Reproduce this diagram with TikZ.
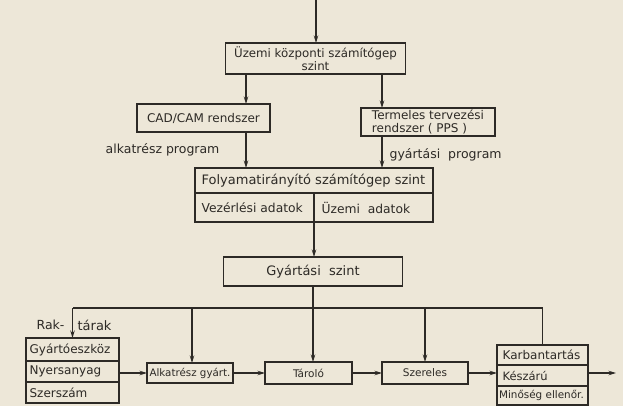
\documentclass[tikz,border=0pt]{standalone}
\usepackage{fontspec}
\setmainfont{DejaVu Sans}
\usetikzlibrary{arrows.meta}
\definecolor{bg}{RGB}{237,231,216}
\definecolor{ink}{RGB}{45,42,38}
\newcommand{\fsz}[2]{\fontsize{#1}{#2}\selectfont}
\begin{document}
\begin{tikzpicture}[x=1pt,y=-1pt,line width=1.2pt,
  every node/.style={text=ink},
  box/.style={draw=ink,inner sep=0pt,outer sep=0pt},
  txt/.style={inner sep=0pt,anchor=west},
  arr/.style={draw=ink,-{Stealth[length=7.5pt,width=4.5pt]}},
  ln/.style={draw=ink}]
\fill[bg] (0,0) rectangle (623,406);
\useasboundingbox (0,0) rectangle (623,406);
% helper coordinates
\coordinate (in) at (316,0);
\coordinate (xl) at (246,0);
\coordinate (xr) at (382,0);
\coordinate (bus) at (0,308);
\coordinate (out) at (616,373);
% top nodes
\node[box,minimum width=180pt,minimum height=31pt,align=center,font=\fsz{11.8}{12.8}] (b1) at (315.5,58.5) {Üzemi központi számítógep\\szint};
\node[box,minimum width=133pt,minimum height=28pt,font=\fsz{12}{13}] (cad) at (203.5,118) {CAD/CAM rendszer};
\node[box,minimum width=134pt,minimum height=28pt,align=left,font=\fsz{12}{13}] (pps) at (428,122) {Termeles tervezési\\rendszer ( PPS )};
\node[txt,anchor=east,font=\fsz{12.5}{14}] (lab1) at (220,150) {alkatrész program};
\node[txt,font=\fsz{12.5}{14}] (lab2) at (389,155) {gyártási\ \ program};
% process control level
\node[box,minimum width=238pt,minimum height=54pt] (fol) at (314,195) {};
\node[txt,font=\fsz{13}{14}] (fol1) at (201,181) {Folyamatirányító számítógep szint};
\node[txt,font=\fsz{12.3}{14}] (fol2) at (201,208) {Vezérlési adatok};
\node[txt,font=\fsz{12.3}{14}] (fol3) at (321,208) {Üzemi\ \ adatok};
\draw[ln] ([yshift=2pt]fol.west) -- ([yshift=2pt]fol.east);
\draw[ln] ([yshift=2pt]fol.center) -- (fol.south);
% manufacturing level
\node[box,minimum width=179pt,minimum height=29pt,font=\fsz{13}{14}] (gy) at (313,271.5) {Gyártási\ \ szint};
% bottom row
\node[box,minimum width=93pt,minimum height=65pt] (st) at (72.5,370.5) {};
\draw[ln] ([yshift=9.5pt]st.west) -- ([yshift=9.5pt]st.east);
\draw[ln] ([yshift=-11.5pt]st.west) -- ([yshift=-11.5pt]st.east);
\node[txt,font=\fsz{12}{14}] (st1) at (29,350) {Gyártóeszköz};
\node[txt,font=\fsz{12}{14}] (st2) at (29,371.5) {Nyersanyag};
\node[txt,font=\fsz{12}{14}] (st3) at (29,392.5) {Szerszám};
\node[box,font=\fsz{10.3}{12},minimum width=86pt,minimum height=20pt] (alk) at (190,373) {Alkatrész gyárt.};
\node[box,font=\fsz{10.5}{12},minimum width=87pt,minimum height=22pt] (tar) at (308.5,373) {Tároló};
\node[box,font=\fsz{10.5}{12},minimum width=86pt,minimum height=22pt] (sze) at (425,373) {Szereles};
\node[box,minimum width=91pt,minimum height=60pt] (kar) at (542.5,375) {};
\draw[ln] ([yshift=10pt]kar.west) -- ([yshift=10pt]kar.east);
\draw[ln] ([yshift=-11pt]kar.west) -- ([yshift=-11pt]kar.east);
\node[txt,font=\fsz{12}{14}] (k1) at (502,355) {Karbantartás};
\node[txt,font=\fsz{11.5}{13}] (k2) at (502,375.5) {Készárú};
\node[txt,font=\fsz{10.4}{12}] (k3) at (498.5,395.5) {Minőség ellenőr.};
\node[txt,anchor=east,font=\fsz{12.5}{14}] (rak1) at (65,325) {Rak-};
\node[txt,font=\fsz{13}{14}] (rak2) at (77,325) {tárak};
% connectors
\draw[arr] (in) -- (b1.north -| in);
\draw[arr] (b1.south -| xl) -- (cad.north -| xl);
\draw[arr] (b1.south -| xr) -- (pps.north -| xr);
\draw[arr] (cad.south -| xl) -- (fol.north -| xl);
\draw[arr] (pps.south -| xr) -- (fol.north -| xr);
\draw[arr] (fol.south) -- (fol.south |- gy.north);
\draw[arr] (gy.south) -- (gy.south |- tar.north);
\draw[ln] (kar.north) -- (kar.north |- bus) -- (st.north |- bus);
\draw[arr] (st.north |- bus) -- (st.north);
\draw[arr] ([xshift=2pt]alk.north |- bus) -- ([xshift=2pt]alk.north);
\draw[arr] (sze.north |- bus) -- (sze.north);
\draw[arr] (st.east |- alk.west) -- (alk.west);
\draw[arr] (alk.east) -- (tar.west);
\draw[arr] (tar.east) -- (sze.west);
\draw[arr] (sze.east) -- (kar.west |- sze.east);
\draw[arr] (kar.east |- sze.east) -- (out);
\end{tikzpicture}
\end{document}
